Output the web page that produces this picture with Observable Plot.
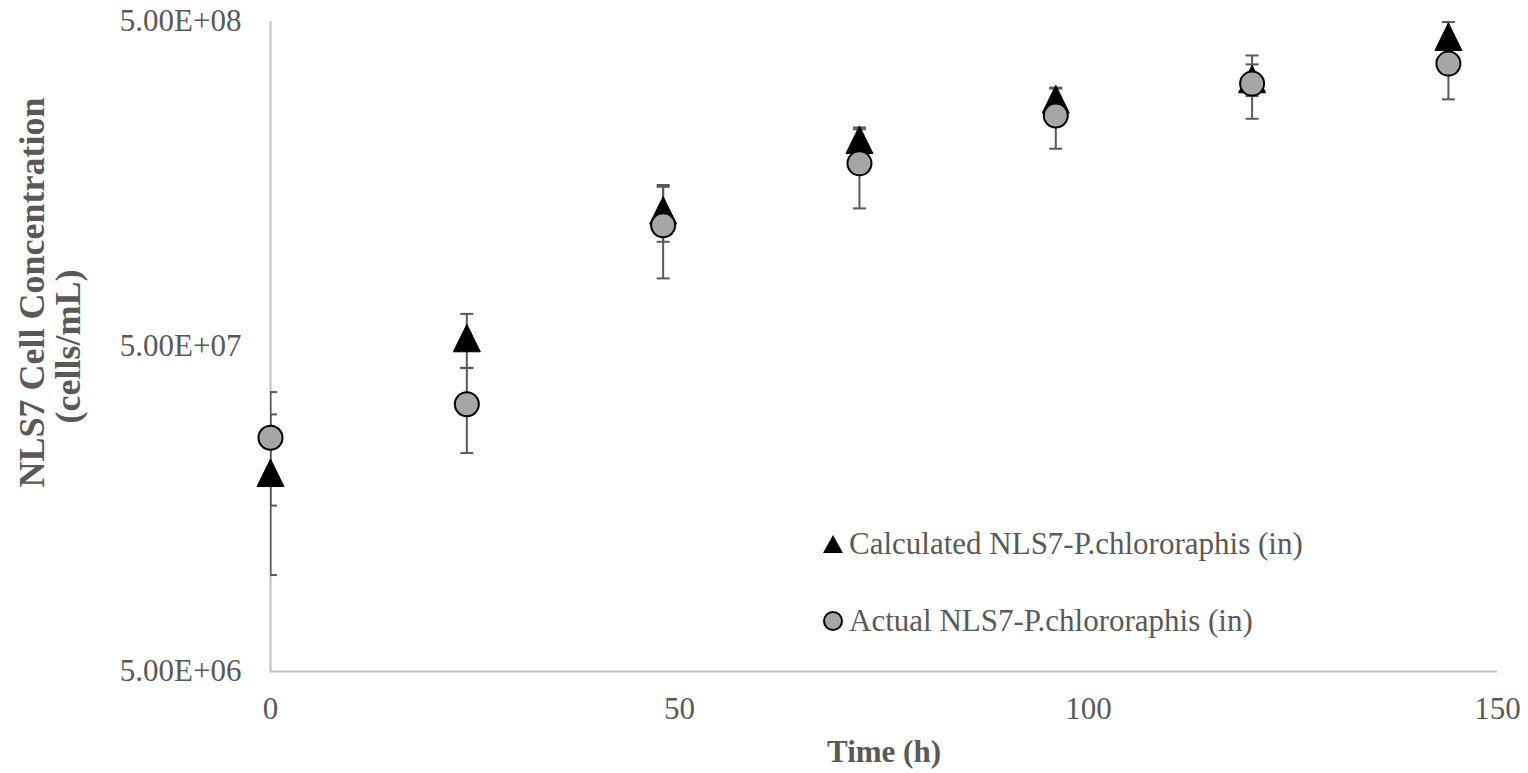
<!DOCTYPE html>
<html><head><meta charset="utf-8">
<script src="https://cdn.jsdelivr.net/npm/d3@7"></script>
<script src="https://cdn.jsdelivr.net/npm/@observablehq/plot@0.6"></script>
<style>
body{margin:0;background:#fff;}
#wrap{position:relative;width:1528px;height:773px;font-family:"Liberation Serif","Times New Roman",serif;}
.legend{position:absolute;left:822px;color:#595959;font-size:31px;display:flex;align-items:center;white-space:nowrap;height:40px;}
.legend svg{margin-right:5px;}
</style>
</head><body><div id="wrap"></div>
<script>
const times = [0, 24, 48, 72, 96, 120, 144];
const calculated = [2.04e7, 5.3e7, 1.31e8, 2.16e8, 2.88e8, 3.32e8, 4.48e8];
const calculatedErr = [1.05e7, 1.0e7, 0.26e8, 0.2e8, 0.25e8, 0.37e8, 0.5e8];
const actual = [2.62e7, 3.32e7, 1.18e8, 1.83e8, 2.57e8, 3.22e8, 3.71e8];
const actualErr = [1.0e7, 0.97e7, 0.37e8, 0.5e8, 0.54e8, 0.71e8, 0.83e8];
const yTicks = [5e6, 5e7, 5e8];
const yTickLabels = ["5.00E+06", "5.00E+07", "5.00E+08"];
const xTicks = [0, 50, 100, 150];
const seriesNames = ["Calculated NLS7-P.chlororaphis (in)", "Actual NLS7-P.chlororaphis (in)"];
const xTitle = "Time (h)";
const yTitleLines = ["NLS7 Cell Concentration", "(cells/mL)"];

const calcData = times.map((t, i) => ({t, v: calculated[i], e: calculatedErr[i]}));
const actData = times.map((t, i) => ({t, v: actual[i], e: actualErr[i]}));

const capSymbol = {draw(ctx) { ctx.moveTo(-6.5, 0); ctx.lineTo(6.5, 0); }};
const triSymbol = {draw(ctx) { ctx.moveTo(0, -14); ctx.lineTo(13.5, 13.5); ctx.lineTo(-13.5, 13.5); ctx.closePath(); }};

const errColor = "#595959";
const font = "Liberation Serif, Times New Roman, serif";

function errMarks(data) {
  const caps = data.flatMap(d => [{t: d.t, y: d.v - d.e}, {t: d.t, y: d.v + d.e}]);
  return [
    Plot.ruleX(data, {x: "t", y1: d => d.v - d.e, y2: d => d.v + d.e, stroke: errColor, strokeWidth: 2, clip: true}),
    Plot.dot(caps, {x: "t", y: "y", symbol: capSymbol, r: 5, stroke: errColor, strokeWidth: 2, fill: "none", clip: true})
  ];
}

const titleStyle = {frameAnchor: "left", textAnchor: "middle", lineAnchor: "middle", rotate: -90, fontSize: 36, fontWeight: "bold", fontFamily: font, fill: "#595959"};

const chart = Plot.plot({
  width: 1528,
  height: 773,
  marginLeft: 270,
  marginRight: 31,
  marginTop: 21,
  marginBottom: 102,
  style: {fontFamily: font, background: "#fff", color: "#595959"},
  x: {domain: [0, 150]},
  y: {type: "log", domain: [5e6, 5e8]},
  marks: [
    Plot.ruleY([5e6], {stroke: "#bfbfbf", strokeWidth: 2}),
    Plot.ruleX([0], {stroke: "#bfbfbf", strokeWidth: 2}),
    Plot.axisX({ticks: xTicks, tickSize: 0, tickPadding: 25, fontSize: 31, fontFamily: font, label: null, tickFormat: d => String(d)}),
    Plot.axisY({ticks: yTicks, tickSize: 0, tickPadding: 29, fontSize: 31, fontFamily: font, label: null,
      tickFormat: d => yTickLabels[yTicks.indexOf(d)]}),
    ...errMarks(calcData),
    ...errMarks(actData),
    Plot.dot(calcData, {x: "t", y: "v", symbol: triSymbol, r: 10, fill: "#000", stroke: "#000", strokeWidth: 1}),
    Plot.dot(actData, {x: "t", y: "v", r: 12, fill: "#a6a6a6", stroke: "#000", strokeWidth: 2}),
    Plot.text([xTitle], {frameAnchor: "bottom", dy: 90, fontSize: 31, fontWeight: "bold", fontFamily: font, fill: "#595959"}),
    Plot.text([yTitleLines[0]], {...titleStyle, dx: -238, dy: -54}),
    Plot.text([yTitleLines[1]], {...titleStyle, dx: -202, dy: 0})
  ]
});

const wrap = document.getElementById("wrap");
wrap.appendChild(chart);

const legendShapes = [
  '<svg width="22" height="22" viewBox="-11 -11 22 22"><path d="M0,-9L10,9L-10,9Z" fill="#000"/></svg>',
  '<svg width="22" height="22" viewBox="-11 -11 22 22"><circle r="9" fill="#a6a6a6" stroke="#000" stroke-width="2"/></svg>'
];
const legendTops = [524, 601];
seriesNames.forEach((name, i) => {
  const div = document.createElement("div");
  div.className = "legend";
  div.style.top = legendTops[i] + "px";
  div.innerHTML = legendShapes[i] + "<span>" + name + "</span>";
  wrap.appendChild(div);
});
</script>
</body></html>
